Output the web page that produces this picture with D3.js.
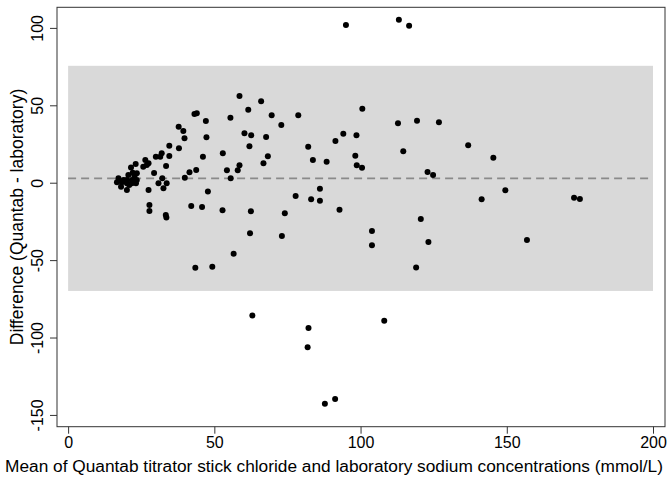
<!DOCTYPE html>
<html>
<head>
<meta charset="utf-8">
<script src="https://cdn.jsdelivr.net/npm/d3@7"></script>
<style>
  body { margin: 0; background: #fff; }
  text { font-family: "Liberation Sans", Arial, sans-serif; }
</style>
</head>
<body>
<div id="chart"></div>
<script>
// mean of the two methods (mmol/L)
var meanVals = [
  16.7, 17.2, 18.4, 18.1, 20.1, 20.1, 20.1, 20.6, 21.5, 21.8, 21.8, 22.1, 23.1, 23.5, 23.5, 23.2,
  22.7, 19.0, 20.9, 25.7, 26.9, 26.4, 27.5, 27.5, 27.8, 27.8, 29.4, 30.0, 31.5, 32.0, 30.9, 32.2,
  33.7, 32.6, 33.4, 33.6, 33.5, 34.6, 34.6, 37.9, 37.8, 39.4, 39.8, 39.9, 41.5, 42.1, 43.2, 44.0,
  43.8, 43.5, 46.1, 45.8, 47.1, 47.3, 47.8, 49.3, 52.9, 52.8, 54.3, 55.5, 55.6, 56.6, 58.0, 58.6,
  58.6, 60.3, 61.6, 62.0, 62.2, 62.5, 62.6, 63.0, 66.0, 66.8, 67.7, 68.3, 69.6, 72.9, 73.1, 74.1,
  77.8, 78.7, 82.1, 82.2, 81.9, 83.1, 83.7, 86.1, 86.1, 87.8, 88.4, 91.3, 91.4, 92.8, 94.1, 95.0,
  98.2, 98.6, 98.7, 100.5, 100.6, 103.9, 103.9, 108.1, 112.8, 113.1, 114.6, 116.6, 119.0, 119.3,
  120.6, 122.9, 123.2, 124.8, 126.8, 136.8, 141.4, 145.4, 149.5, 156.9, 173.0, 175.0
];
// difference Quantab - laboratory
var diffVals = [
  0.3, 2.8, 0.3, -2.6, 1.7, -0.4, -4.7, 5.0, 9.9, 1.7, -0.4, 6.5, 12.1, 6.1, 1.7, -0.4,
  4.3, 1.7, -1.5, 10.3, 11.4, 14.7, 12.5, -4.7, -14.4, -18.3, 6.3, 16.8, 16.8, 19.0, -0.4, 2.8,
  -0.4, -3.6, -20.9, -22.5, 10.8, 23.9, 17.2, 22.2, 36.2, 33.4, 28.7, 3.2, 6.7, -15.1, 44.4, 44.8,
  8.2, -54.9, 16.8, -15.7, 39.9, 29.3, -5.6, -54.3, 19.0, -17.8, 8.0, 42.0, 2.8, -45.9, 8.0, 11.2,
  56.0, 31.9, 47.2, 23.5, -32.7, -18.5, 30.6, -85.7, 52.6, 12.5, 29.5, 17.1, 43.5, 37.3, -34.4, -19.8,
  -8.6, 43.5, 23.3, -93.9, -106.3, -10.7, 14.7, -3.9, -11.6, -142.8, 13.6, -139.7, 26.9, -17.4, 31.7, 101.9,
  17.4, 30.6, 11.2, 9.7, 47.8, -31.2, -40.4, -89.1, 38.4, 105.3, 20.3, 101.4, -54.8, 40.1,
  -23.4, 6.9, -38.3, 5.0, 39.0, 24.2, -10.7, 16.2, -4.9, -37.0, -9.7, -10.5
];
var meanDiff = 2.8;
var loaLower = -69.9, loaUpper = 75.5;
var xTicks = [0, 50, 100, 150, 200];
var yTicks = [-150, -100, -50, 0, 50, 100];

var W = 668, H = 477;
var svg = d3.select("#chart").append("svg")
  .attr("width", W).attr("height", H);

// plot region (Stata style box)
var box = {left: 57, right: 665, top: 7.3, bottom: 426.7};

var x = d3.scaleLinear().domain([-3.8, 204.1]).range([box.left, box.right]);
var y = d3.scaleLinear().domain([-157.6, 113.3]).range([box.bottom, box.top]);

// plain hyphen for negatives, like the original
var fmt = function(d){ return String(d); };

// limits of agreement band
svg.append("rect")
  .attr("x", x(0)).attr("width", x(200) - x(0))
  .attr("y", y(loaUpper)).attr("height", y(loaLower) - y(loaUpper))
  .attr("fill", "#d9d9d9");

// mean difference line
svg.append("line")
  .attr("x1", x(0)).attr("x2", x(200))
  .attr("y1", y(meanDiff)).attr("y2", y(meanDiff))
  .attr("stroke", "#8a8a8a").attr("stroke-width", 1.6)
  .attr("stroke-dasharray", "8,5");

// points
svg.append("g").selectAll("circle")
  .data(meanVals)
  .enter().append("circle")
  .attr("cx", function(d){ return x(d); })
  .attr("cy", function(d, i){ return y(diffVals[i]); })
  .attr("r", 3)
  .attr("fill", "#000");

// frame
svg.append("rect")
  .attr("x", box.left).attr("y", box.top)
  .attr("width", box.right - box.left).attr("height", box.bottom - box.top)
  .attr("fill", "none").attr("stroke", "#333").attr("stroke-width", 1);

// x axis
var gx = svg.append("g")
  .attr("transform", "translate(0," + box.bottom + ")")
  .call(d3.axisBottom(x).tickValues(xTicks).tickSize(7).tickPadding(3).tickFormat(fmt));
gx.select(".domain").remove();
gx.selectAll("line").attr("stroke", "#333");
gx.selectAll("text").style("font-size", "16px").attr("fill", "#000");

// y axis
var gy = svg.append("g")
  .attr("transform", "translate(" + box.left + ",0)")
  .call(d3.axisLeft(y).tickValues(yTicks).tickSize(7).tickFormat(fmt));
gy.select(".domain").remove();
gy.selectAll("line").attr("stroke", "#333");
gy.selectAll("text")
  .attr("x", 0).attr("dy", 0)
  .attr("transform", "translate(-14,0) rotate(-90)")
  .attr("text-anchor", "middle")
  .style("font-size", "16px").attr("fill", "#000");

// axis titles
svg.append("text")
  .attr("x", 334).attr("y", 472)
  .attr("text-anchor", "middle")
  .style("font-size", "17.3px")
  .text("Mean of Quantab titrator stick chloride and laboratory sodium concentrations (mmol/L)");

svg.append("text")
  .attr("transform", "translate(23," + ((box.top + box.bottom) / 2) + ") rotate(-90)")
  .attr("text-anchor", "middle")
  .style("font-size", "17.5px")
  .text("Difference (Quantab - laboratory)");
</script>
</body>
</html>
